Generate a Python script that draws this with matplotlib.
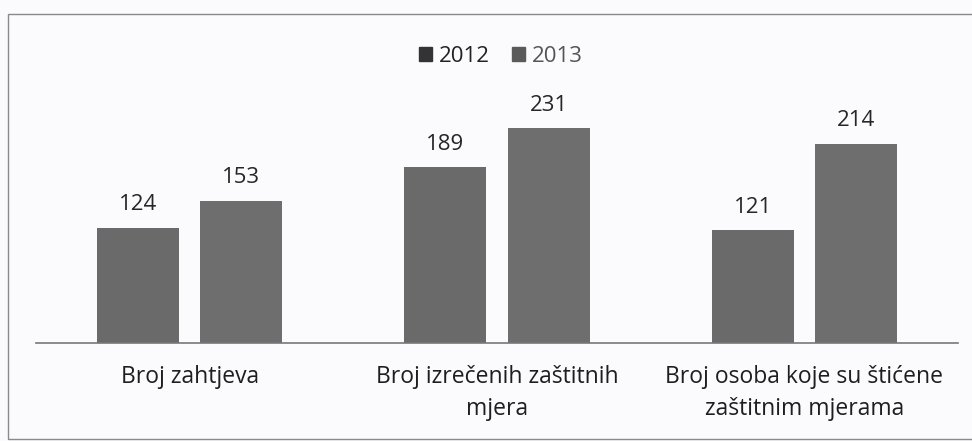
import matplotlib.pyplot as plt
import numpy as np
from matplotlib.patches import Patch, Rectangle

categories = ['Broj zahtjeva', 'Broj izrečenih zaštitnih\nmjera',
              'Broj osoba koje su štićene\nzaštitnim mjerama']
years = ['2012', '2013']
values_2012 = [124, 189, 121]
values_2013 = [153, 231, 214]

bar_colors = ['#6a6a6a', '#6e6e6e']
legend_colors = ['#333333', '#5a5a5a']
legend_text = ['#222222', '#555555']

plt.rcParams['font.family'] = ['Open Sans', 'DejaVu Sans']

W, H = 972, 441
fig = plt.figure(figsize=(W / 100, H / 100), dpi=100)
fig.patch.set_facecolor('#fbfbfd')

# chart frame (right edge runs past the scan)
fig.patches.append(Rectangle((8 / W, 1 - 439 / H), 1.0, (439 - 14) / H,
                             transform=fig.transFigure, fill=False,
                             edgecolor='#8a8a8a', linewidth=1.0))

ax = fig.add_axes([36 / W, 1 - 343 / H, (958 - 36) / W, (343 - 64) / H])
ax.set_facecolor('none')

x = np.arange(len(categories))
width = 0.267
offset = 0.168
for i, vals in enumerate([values_2012, values_2013]):
    pos = x + (offset if i else -offset)
    bars = ax.bar(pos, vals, width, color=bar_colors[i])
    for b, v in zip(bars, vals):
        ax.annotate(str(v), (b.get_x() + b.get_width() / 2, v),
                    xytext=(0, 9), textcoords='offset points',
                    ha='center', va='bottom', fontsize=16, color='#262626')

ax.set_xlim(-0.5, 2.5)
ax.set_ylim(0, 300)
ax.set_yticks([])
ax.set_xticks(x)
ax.set_xticklabels(categories, fontsize=16.5, color='#1e1e1e', linespacing=1.45)
ax.tick_params(axis='x', length=0, pad=16)
for s in ['top', 'right', 'left']:
    ax.spines[s].set_visible(False)
ax.spines['bottom'].set_color('#777777')
ax.spines['bottom'].set_linewidth(1.2)

handles = [Patch(color=c) for c in legend_colors]
leg = fig.legend(handles, years, loc='center', bbox_to_anchor=(0.515, 0.872),
                 ncol=2, frameon=False, fontsize=16, handlelength=0.6,
                 handleheight=0.6, handletextpad=0.3, columnspacing=1.0)
for t, c in zip(leg.get_texts(), legend_text):
    t.set_color(c)

fig.savefig('out.png', dpi=100, facecolor=fig.get_facecolor())
